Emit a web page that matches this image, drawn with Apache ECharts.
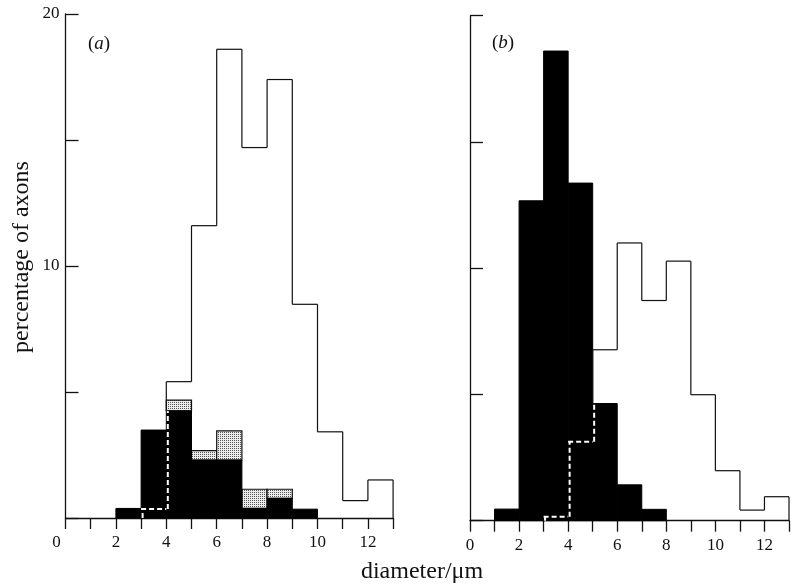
<!DOCTYPE html>
<html>
<head>
<meta charset="utf-8">
<script src="https://cdn.jsdelivr.net/npm/echarts@6/dist/echarts.min.js"></script>
<style>
  html, body { margin: 0; padding: 0; background: #fff; }
  #main { width: 792px; height: 587px; }
</style>
</head>
<body>
<div id="main"></div>
<script>
// bins are [i, i+1] micrometres, i = 0..12
var binStarts = [0, 1, 2, 3, 4, 5, 6, 7, 8, 9, 10, 11, 12];
var xTicks = [0, 2, 4, 6, 8, 10, 12];

// panel (a)
var openA    = [0, 0, 0, 0.36, 5.41, 11.6, 18.6, 14.7, 17.4, 8.48, 3.42, 0.69, 1.51];
var blackA   = [0, 0, 0.38, 3.49, 4.25, 2.3, 2.3, 0.38, 0.78, 0.35, 0, 0, 0];
var stippleA = [0, 0, 0, 0, 4.68, 2.67, 3.46, 1.14, 1.14, 0, 0, 0, 0];

// panel (b)
var openB    = [0, 0, 0, 0.16, 3.13, 6.77, 11.0, 8.72, 10.28, 4.99, 1.98, 0.42, 0.95];
var blackB   = [0, 0.46, 12.67, 18.6, 13.37, 4.64, 1.42, 0.45, 0, 0, 0, 0, 0];
var stippleB = [0, 0, 0, 0, 0, 0, 0, 0, 0, 0, 0, 0, 0];

var FONT = 'Liberation Serif';

// stipple pattern: fine regular dots
var pat = document.createElement('canvas');
pat.width = 2; pat.height = 2;
var pc = pat.getContext('2d');
pc.fillStyle = '#ececec'; pc.fillRect(0, 0, 2, 2);
pc.fillStyle = '#555'; pc.fillRect(0, 0, 1, 1);

var myChart = echarts.init(document.getElementById('main'));

function barSeries(gi, lows, highs, fill, stroke, lw) {
  return {
    type: 'custom',
    xAxisIndex: gi, yAxisIndex: gi,
    data: binStarts.map(function (x, i) { return [x, lows[i], highs[i]]; }),
    renderItem: function (params, api) {
      var x = api.value(0), lo = api.value(1), hi = api.value(2);
      if (hi <= lo) return;
      var p0 = api.coord([x, hi]);
      var p1 = api.coord([x + 1, lo]);
      return {
        type: 'rect',
        shape: { x: p0[0], y: p0[1], width: p1[0] - p0[0], height: p1[1] - p0[1] },
        style: { fill: fill, stroke: stroke, lineWidth: lw }
      };
    },
    z: 2
  };
}

function outlineSeries(gi, open, black) {
  return {
    type: 'custom',
    xAxisIndex: gi, yAxisIndex: gi,
    data: binStarts.map(function (x, i) { return [x, i]; }),
    renderItem: function (params, api) {
      var x = api.value(0), i = api.value(1);
      var v = open[i], prev = i > 0 ? open[i - 1] : 0, h = black[i];
      var kids = [];
      function seg(x1, y1, x2, y2, dashed) {
        var a = api.coord([x1, y1]), b = api.coord([x2, y2]);
        kids.push({
          type: 'line',
          shape: { x1: a[0], y1: a[1], x2: b[0], y2: b[1] },
          style: dashed
            ? { stroke: '#fff', lineWidth: 2, lineDash: [5, 3] }
            : { stroke: '#111', lineWidth: 1.2 }
        });
      }
      // left edge
      var lo = Math.min(prev, v), hi = Math.max(prev, v);
      if (hi > lo) {
        var dx = x + 0.06;
        if (h > lo) seg(dx, lo, dx, Math.min(hi, h), true);
        if (hi > h) seg(x, Math.max(lo, h), x, hi, false);
      }
      // top
      if (v > 0) seg(x, v, x + 1, v, v < h);
      // closing right edge
      if (i === binStarts.length - 1 && v > 0) seg(x + 1, v, x + 1, 0, false);
      return { type: 'group', children: kids };
    },
    z: 3
  };
}

var axisLineStyle = { color: '#111', width: 1.3 };

function xAxisFor(gi, zeroShift) {
  return {
    type: 'value', gridIndex: gi, min: 0, max: 13, interval: 1,
    splitLine: { show: false },
    axisLine: { lineStyle: axisLineStyle },
    axisTick: { length: 11, lineStyle: axisLineStyle },
    axisLabel: {
      margin: 16, fontFamily: FONT, fontSize: 17, color: '#111',
      formatter: function (v) {
        if (xTicks.indexOf(v) < 0) return '';
        if (v === 0 && zeroShift) return '{z|0}';
        return String(v);
      },
      rich: { z: { fontFamily: FONT, fontSize: 17, color: '#111', padding: [0, 18, 0, 0] } }
    }
  };
}

function yAxisFor(gi, showLabels) {
  return {
    type: 'value', gridIndex: gi, min: 0, max: 20, interval: 5,
    splitLine: { show: false },
    axisLine: { lineStyle: axisLineStyle },
    axisTick: { inside: true, length: 13, lineStyle: axisLineStyle },
    axisLabel: {
      show: showLabels, margin: 6, fontFamily: FONT, fontSize: 17, color: '#111',
      formatter: function (v) { return (v === 10 || v === 20) ? String(v) : ''; }
    }
  };
}

function panelTag(x, y, letter) {
  return {
    type: 'text', x: x, y: y,
    style: { text: '{n|(}{i|' + letter + '}{n|)}', verticalAlign: 'middle',
      rich: { n: { fontFamily: FONT, fontSize: 19, fill: '#111' },
              i: { fontFamily: FONT, fontSize: 19, fontStyle: 'italic', fill: '#111' } } }
  };
}

var zeros = binStarts.map(function () { return 0; });
var pattern = { image: pat, repeat: 'repeat' };

var option = {
  backgroundColor: '#fff',
  animation: false,
  grid: [
    { left: 65.5, top: 14, width: 327.6, height: 504 },
    { left: 470, top: 15.7, width: 327.6, height: 505 }
  ],
  xAxis: [xAxisFor(0, true), xAxisFor(1, false)],
  yAxis: [yAxisFor(0, true), yAxisFor(1, false)],
  graphic: [
    panelTag(88, 44, 'a'),
    panelTag(492, 43, 'b'),
    {
      type: 'text', x: 22, y: 257, rotation: Math.PI / 2,
      style: { text: 'percentage of axons', fontFamily: FONT, fontSize: 24, fill: '#111',
        align: 'center', verticalAlign: 'middle' }
    },
    {
      type: 'text', x: 422, y: 572,
      style: { text: 'diameter/\u03bcm', fontFamily: FONT, fontSize: 24, fill: '#111',
        align: 'center', verticalAlign: 'middle' }
    }
  ],
  series: [
    barSeries(0, blackA, stippleA, pattern, '#111', 1.2),
    barSeries(0, zeros, blackA, '#000', '#000', 1),
    outlineSeries(0, openA, blackA),
    barSeries(1, blackB, stippleB, pattern, '#111', 1.2),
    barSeries(1, zeros, blackB, '#000', '#000', 1),
    outlineSeries(1, openB, blackB)
  ]
};

myChart.setOption(option);
</script>
</body>
</html>
